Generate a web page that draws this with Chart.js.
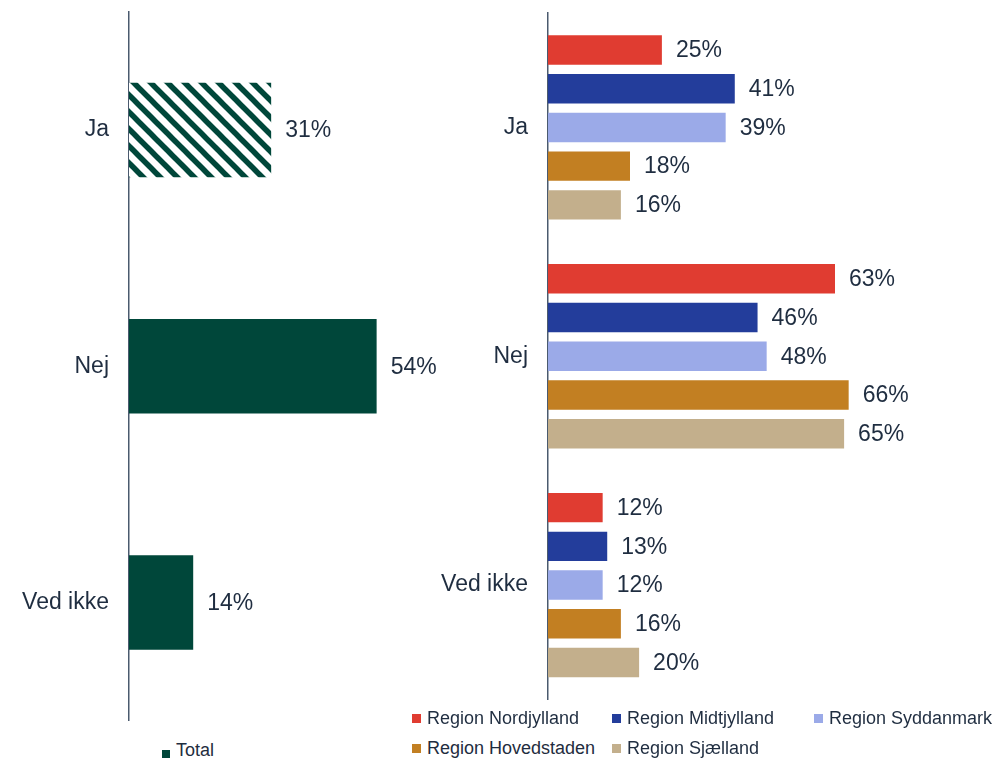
<!DOCTYPE html>
<html>
<head>
<meta charset="utf-8">
<script src="https://cdn.jsdelivr.net/npm/chart.js@4.4.0/dist/chart.umd.min.js"></script>
<style>
  html, body { margin: 0; padding: 0; background: #ffffff; }
  body { width: 998px; height: 759px; position: relative; overflow: hidden; font-family: "Liberation Sans", Arial, sans-serif; color: #1F2D40; }
  #leftWrap { position: absolute; left: 0; top: 0; width: 470px; height: 732px; }
  #rightWrap { position: absolute; left: 400px; top: 0; width: 598px; height: 711px; }
  .legend { position: absolute; left: 0; top: 0; font-size: 18px; color: #1F2D40; }
  .item { position: absolute; display: flex; align-items: center; white-space: nowrap; height: 22px; }
  .sw { display: inline-block; margin-right: 6px; position: relative; }
</style>
</head>
<body>
<div id="leftWrap"><canvas id="leftChart" width="470" height="732"></canvas></div>
<div id="rightWrap"><canvas id="rightChart" width="598" height="711"></canvas></div>
<div class="legend" id="leftLegend"></div>
<div class="legend" id="rightLegend"></div>
<script>
// ---- Data ----
const categories = ['Ja', 'Nej', 'Ved ikke'];
const totalLabel = 'Total';
const totalValues = [31, 54, 14];
const regionNames = ['Region Nordjylland', 'Region Midtjylland', 'Region Syddanmark', 'Region Hovedstaden', 'Region Sjælland'];
const nordjylland = [25, 63, 12];
const midtjylland = [41, 46, 13];
const syddanmark = [39, 48, 12];
const hovedstaden = [18, 66, 16];
const sjaelland = [16, 65, 20];
const regionValues = [nordjylland, midtjylland, syddanmark, hovedstaden, sjaelland];

// ---- Styles ----
const green = '#00473A';
const regionColors = ['#E03C31', '#233D9B', '#9BAAE8', '#C27F22', '#C3AF8C'];
const textColor = '#1F2D40';
const axisColor = '#4A5A6E';
const fontFamily = '"Liberation Sans", Arial, sans-serif';

function makeHatch(color) {
  const s = 17;
  const c = document.createElement('canvas');
  c.width = s; c.height = s;
  const ctx = c.getContext('2d');
  ctx.fillStyle = '#ffffff';
  ctx.fillRect(0, 0, s, s);
  ctx.strokeStyle = color;
  ctx.lineWidth = 5.5;
  for (const k of [-s, 0, s]) {
    ctx.beginPath();
    ctx.moveTo(k - 2, -2);
    ctx.lineTo(k + s + 2, s + 2);
    ctx.stroke();
  }
  return ctx.createPattern(c, 'repeat');
}

const valueLabels = {
  id: 'valueLabels',
  afterDatasetsDraw(chart) {
    const ctx = chart.ctx;
    ctx.save();
    ctx.font = '23px ' + fontFamily;
    ctx.fillStyle = textColor;
    ctx.textAlign = 'left';
    ctx.textBaseline = 'middle';
    chart.data.datasets.forEach((ds, i) => {
      const meta = chart.getDatasetMeta(i);
      meta.data.forEach((el, j) => {
        ctx.fillText(ds.data[j] + '%', el.x + 14, el.y + 1);
      });
    });
    ctx.restore();
  }
};

function baseOptions(yWidth, xMax, pad) {
  return {
    indexAxis: 'y',
    responsive: false,
    animation: false,
    devicePixelRatio: 1,
    layout: { padding: pad },
    plugins: { legend: { display: false }, tooltip: { enabled: false } },
    scales: {
      x: { display: false, min: 0, max: xMax },
      y: {
        afterFit(scale) { scale.width = yWidth; },
        grid: { display: false, drawTicks: true, tickLength: 20 },
        border: { display: true, color: axisColor, width: 1.5 },
        ticks: { color: textColor, font: { family: fontFamily, size: 23, lineHeight: 1 }, padding: 0 }
      }
    }
  };
}

// ---- Left chart (Total) ----
const hatch = makeHatch(green);
new Chart(document.getElementById('leftChart'), {
  type: 'bar',
  data: {
    labels: categories,
    datasets: [{
      label: totalLabel,
      data: totalValues,
      backgroundColor: [hatch, green, green],
      categoryPercentage: 1.0,
      barPercentage: 0.40
    }]
  },
  options: baseOptions(129, 70, { top: 12, bottom: 0, left: 0, right: 20 }),
  plugins: [valueLabels]
});

// ---- Right chart (Regions) ----
new Chart(document.getElementById('rightChart'), {
  type: 'bar',
  data: {
    labels: categories,
    datasets: regionNames.map((name, i) => ({
      label: name,
      data: regionValues[i],
      backgroundColor: regionColors[i],
      categoryPercentage: 0.846,
      barPercentage: 0.76
    }))
  },
  options: baseOptions(148, 90, { top: 13, bottom: 0, left: 0, right: 40 }),
  plugins: [valueLabels]
});

// ---- Legends (HTML) ----
function addItem(container, text, color, x, y, size, markerShift) {
  const d = document.createElement('div');
  d.className = 'item';
  d.style.left = x + 'px';
  d.style.top = (y - 11) + 'px';
  const sw = document.createElement('span');
  sw.className = 'sw';
  sw.style.width = size + 'px';
  sw.style.height = size + 'px';
  sw.style.background = color;
  sw.style.top = (markerShift || 0) + 'px';
  const t = document.createElement('span');
  t.textContent = text;
  d.appendChild(sw);
  d.appendChild(t);
  container.appendChild(d);
}
const ll = document.getElementById('leftLegend');
addItem(ll, totalLabel, green, 162, 750, 8, 4);
const rl = document.getElementById('rightLegend');
const colX = [412, 612, 814];
const rowY = [718.5, 748.5];
regionNames.forEach((name, i) => {
  addItem(rl, name, regionColors[i], colX[i % 3], rowY[Math.floor(i / 3)], 9, 0);
});
</script>
</body>
</html>
